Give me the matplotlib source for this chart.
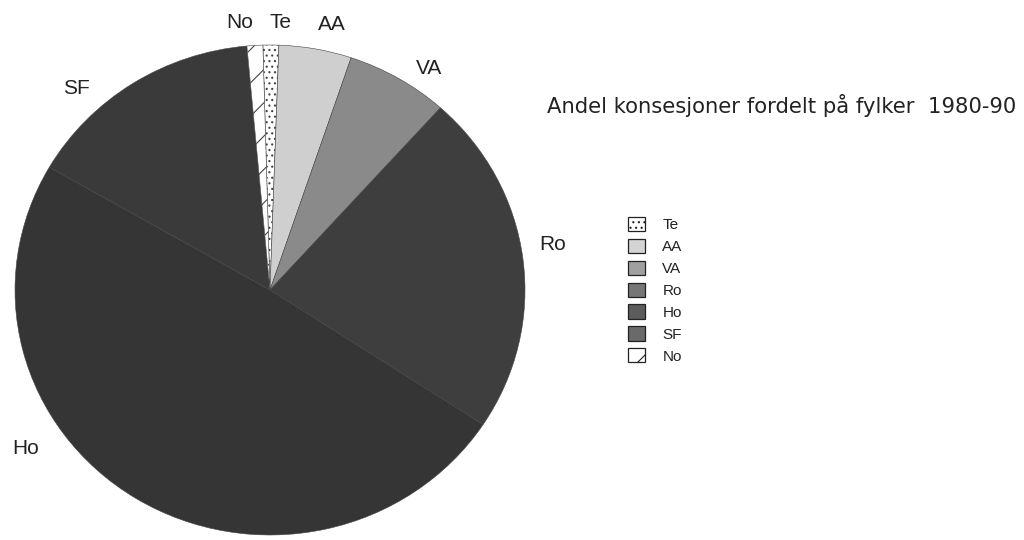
import matplotlib
matplotlib.use("Agg")
import matplotlib.pyplot as plt
from matplotlib.patches import Patch

plt.rcParams['font.family'] = ['Liberation Sans', 'DejaVu Sans']
plt.rcParams['hatch.linewidth'] = 0.8

# Andel konsesjoner (%) per fylke, read clockwise from the top
fylker = ["Te", "AA", "VA", "Ro", "Ho", "SF", "No"]
andel = [1.0, 4.6, 6.5, 22.6, 49.1, 15.2, 1.0]
farger = ["#ffffff", "#cfcfcf", "#8a8a8a", "#3e3e3e", "#353535", "#3a3a3a", "#ffffff"]
legend_farger = ["#ffffff", "#d4d4d4", "#a0a0a0", "#767676", "#5c5c5c", "#6a6a6a", "#ffffff"]
monster = ["...", "", "", "", "", "", "/"]

tittel = "Andel konsesjoner fordelt på fylker  1980-90"

# label centres in pixels (x, y from top) of the 1024x540 picture
etikett_pos = {
    "No": (240, 23), "Te": (280, 23), "AA": (332, 25), "VA": (429, 69),
    "SF": (76, 89), "Ro": (553, 245), "Ho": (26, 448),
}

W, H = 1024, 540
fig = plt.figure(figsize=(W / 100, H / 100), dpi=100)

# pie is slightly squashed in the scan: rx 255 px, ry 245 px, centre (270, 290)
cx, cy, rx, ry = 270, 290, 255, 245
ax = fig.add_axes([(cx - rx) / W, (H - cy - ry) / H, 2 * rx / W, 2 * ry / H])
wedges, _ = ax.pie(andel, colors=farger, startangle=91.6, counterclock=False,
                   radius=1.0, wedgeprops=dict(edgecolor="#444444", linewidth=0.4))
for w, h in zip(wedges, monster):
    if h:
        w.set_hatch(h)
ax.set_aspect("auto")
ax.set_xlim(-1, 1)
ax.set_ylim(-1, 1)
ax.axis("off")

for navn in fylker:
    px, py = etikett_pos[navn]
    fig.text(px / W, 1 - py / H, navn, fontsize=15, ha="center", va="center", color="#222222")

fig.text(547 / W, 1 - 113 / H, tittel, fontsize=15.2, ha="left", va="baseline",
         color="#222222", family="DejaVu Sans")

handles = [Patch(facecolor=c, edgecolor="#222222", hatch=h, linewidth=0.9)
           for c, h in zip(legend_farger, monster)]
fig.legend(handles, fylker, loc="upper left", bbox_to_anchor=(628 / W, 1 - 217 / H),
           frameon=False, fontsize=11, handlelength=1.1, handleheight=1.05,
           handletextpad=1.15, labelspacing=0.43, borderaxespad=0, borderpad=0,
           labelcolor="#222222")

fig.savefig("out.png", dpi=100, facecolor="white")
